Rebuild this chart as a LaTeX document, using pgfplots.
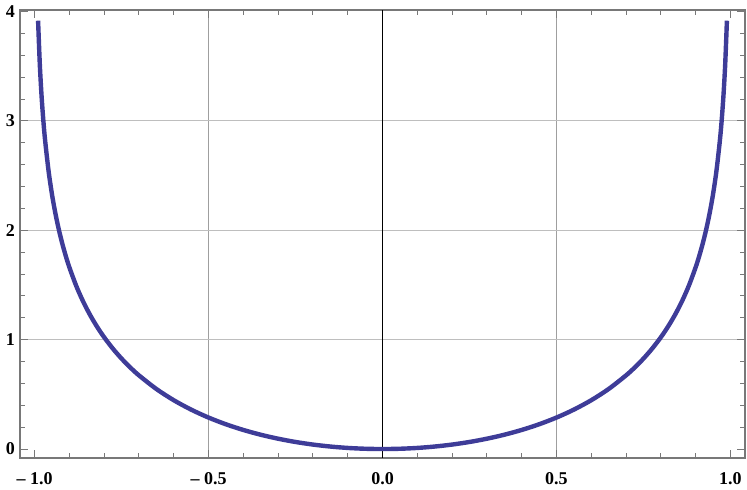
\documentclass[border=0pt]{standalone}
\usepackage{fontspec}
\setmainfont{Liberation Serif}
\usepackage{pgfplots}
\pgfplotsset{compat=1.18}
\definecolor{curve}{RGB}{62,60,152}
\definecolor{framegray}{RGB}{120,120,120}
\definecolor{gridgray}{RGB}{190,190,190}
\begin{document}
\begin{tikzpicture}
\useasboundingbox (0,0) rectangle (373.5pt,245pt);
\begin{axis}[
  at={(10pt,16pt)}, anchor=south west,
  width=362.5pt, height=224pt, scale only axis,
  xmin=-1.042, xmax=1.042,
  ymin=-0.082, ymax=4.015,
  /pgf/number format/assume math mode=true,
  xtick={-1,-0.5,0,0.5,1},
  xticklabels={{–\ 1.0},{–\ 0.5},{0.0},{0.5},{1.0}},
  minor xtick={-0.9,-0.8,-0.7,-0.6,-0.4,-0.3,-0.2,-0.1,0.1,0.2,0.3,0.4,0.6,0.7,0.8,0.9},
  ytick={0,1,2,3,4},
  yticklabels={{0},{1},{2},{3},{4}},
  minor ytick={0.2,0.4,0.6,0.8,1.2,1.4,1.6,1.8,2.2,2.4,2.6,2.8,3.2,3.4,3.6,3.8},
  extra y ticks={1,2,3},
  extra y tick labels={},
  extra y tick style={ymajorgrids=true, major grid style={color=gridgray, line width=0.5pt}},
  extra x ticks={-0.5,0.5},
  extra x tick labels={},
  extra x tick style={xmajorgrids=true, major grid style={color=gray!75, line width=0.4pt}},
  axis line style={draw=framegray, line width=0.6pt},
  tick style={color=framegray, line width=0.5pt},
  major tick length=4pt, minor tick length=2.5pt,
  tick align=inside,
  tick label style={font=\fontsize{9}{10}\selectfont\bfseries, text=black},
  xticklabel style={yshift=-3.5pt},
  yticklabel style={xshift=1pt},
  clip=false,
]
\draw[black, line width=0.4pt] (axis cs:0,-0.082) -- (axis cs:0,4.015);
\addplot[curve, line width=2.2pt, smooth] coordinates {
(-0.99,3.91703) (-0.985,3.51406) (-0.98,3.22893) (-0.975,3.00829) (-0.97,2.82852)
(-0.96,2.54593) (-0.95,2.32790) (-0.94,2.15074) (-0.93,2.00175) (-0.92,1.87340)
(-0.91,1.76084) (-0.90,1.66073) (-0.88,1.48899) (-0.86,1.34554) (-0.84,1.22282)
(-0.82,1.11595) (-0.80,1.02165) (-0.775,0.91785) (-0.75,0.82668) (-0.725,0.74576)
(-0.70,0.67334) (-0.65,0.54904) (-0.60,0.44629) (-0.55,0.36025) (-0.50,0.28768)
(-0.45,0.22627) (-0.40,0.17435) (-0.35,0.13068) (-0.30,0.09431) (-0.25,0.06454)
(-0.20,0.04082) (-0.15,0.02276) (-0.10,0.01005) (-0.05,0.00250) (0,0)
(0.05,0.00250) (0.10,0.01005) (0.15,0.02276) (0.20,0.04082) (0.25,0.06454)
(0.30,0.09431) (0.35,0.13068) (0.40,0.17435) (0.45,0.22627) (0.50,0.28768)
(0.55,0.36025) (0.60,0.44629) (0.65,0.54904) (0.70,0.67334) (0.725,0.74576)
(0.75,0.82668) (0.775,0.91785) (0.80,1.02165) (0.82,1.11595) (0.84,1.22282)
(0.86,1.34554) (0.88,1.48899) (0.90,1.66073) (0.91,1.76084) (0.92,1.87340)
(0.93,2.00175) (0.94,2.15074) (0.95,2.32790) (0.96,2.54593) (0.97,2.82852)
(0.975,3.00829) (0.98,3.22893) (0.985,3.51406) (0.99,3.91703)
};
\end{axis}
\end{tikzpicture}
\end{document}
